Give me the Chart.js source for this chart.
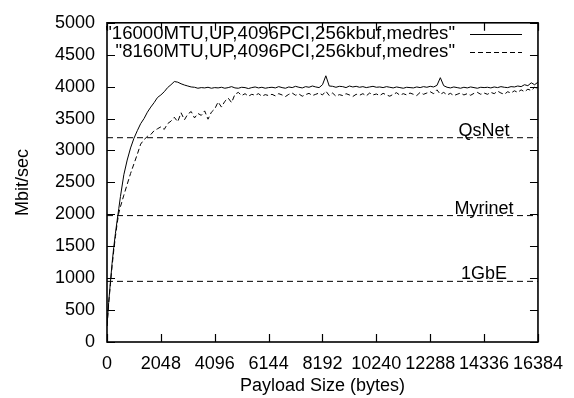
<!DOCTYPE html>
<html>
<head>
<meta charset="utf-8">
<script src="https://cdn.jsdelivr.net/npm/chart.js@4/dist/chart.umd.min.js"></script>
<style>
  body { margin: 0; background: #fff; }
  #wrap { width: 574px; height: 398px; }
</style>
</head>
<body>
<div id="wrap"><canvas id="chart1" width="574" height="398"></canvas></div>
<script>
// payload sizes in bytes
const payload = [
  0, 64, 128, 192, 256, 320, 384, 448, 512, 640, 768, 896, 1024, 1152, 1280, 1408, 1536, 1664, 1792, 1920,
  2048, 2176, 2304, 2432, 2560, 2688, 2816, 2944, 3072, 3200, 3328, 3456, 3584, 3712, 3840, 3968, 4096,
  4224, 4352, 4480, 4608, 4736, 4864, 4992, 5120, 5248, 5376, 5504, 5632, 5760, 5888, 6016, 6144,
  6272, 6400, 6528, 6656, 6784, 6912, 7040, 7168, 7296, 7424, 7552, 7680, 7808, 7936, 8064, 8192,
  8320, 8448, 8576, 8704, 8832, 8960, 9088, 9216, 9344, 9472, 9600, 9728, 9856, 9984, 10112, 10240,
  10368, 10496, 10624, 10752, 10880, 11008, 11136, 11264, 11392, 11520, 11648, 11776, 11904, 12032, 12160, 12288,
  12416, 12544, 12672, 12800, 12928, 13056, 13184, 13312, 13440, 13568, 13696, 13824, 13952, 14080, 14208, 14336,
  14464, 14592, 14720, 14848, 14976, 15104, 15232, 15360, 15488, 15616, 15744, 15872, 16000, 16128, 16256, 16384
];

// "16000MTU,UP,4096PCI,256kbuf,medres"
const mtu16000 = [
  250, 620, 930, 1230, 1480, 1700, 1900, 2090, 2280, 2620, 2850, 3040, 3190, 3310, 3420, 3500, 3600, 3680, 3750, 3830,
  3870, 3920, 3985, 4030, 4080, 4070, 4045, 4025, 4010, 3995, 3990, 3975, 3985, 3980, 3990, 3975, 3985,
  3980, 3990, 3975, 3985, 4000, 3980, 3975, 3990, 3985, 3970, 3985, 3995, 3980, 3990, 3975, 3985,
  3990, 3980, 4000, 3985, 3975, 3995, 3985, 4005, 3990, 3980, 4000, 3990, 4010, 3995, 3985, 4030,
  4170, 4010, 4005, 3990, 4005, 4000, 3985, 4010, 3995, 4005, 3990, 4000, 3985, 3995, 4005, 3990,
  3995, 3985, 4000, 3990, 3980, 3995, 3985, 3975, 3990, 3985, 3980, 3995, 3985, 4000, 3990, 4005,
  3995, 4020, 4140, 4015, 3990, 3980, 3995, 3985, 3975, 3990, 3980, 3995, 3985, 3975, 3990, 3985,
  3990, 3980, 3995, 3985, 4000, 3990, 3985, 4000, 3995, 4010, 4000, 4030, 4015, 4060, 4030, 4070
];

// "8160MTU,UP,4096PCI,256kbuf,medres"
const mtu8160 = [
  250, 600, 900, 1180, 1430, 1650, 1850, 2020, 2120, 2300, 2470, 2640, 2790, 2940, 3100, 3170, 3220, 3250, 3310, 3340,
  3370, 3330, 3420, 3460, 3520, 3450, 3590, 3480, 3570, 3610, 3510, 3580, 3550, 3620, 3490, 3600, 3650,
  3760, 3680, 3770, 3820, 3750, 3880, 3910, 3860, 3890, 3850, 3880, 3865, 3890, 3850, 3875, 3860,
  3880, 3855, 3890, 3870, 3845, 3880, 3900, 3865, 3885, 3850, 3875, 3895, 3860, 3880, 3900, 3870,
  3930, 3860, 3900, 3850, 3875, 3860, 3890, 3870, 3845, 3880, 3865, 3890, 3855, 3900, 3870, 3885,
  3860, 3895, 3870, 3850, 3880, 3905, 3865, 3890, 3870, 3900, 3880, 3860, 3910, 3880, 3900, 3920,
  3890, 3950, 3880, 3910, 3870, 3895, 3860, 3880, 3900, 3870, 3890, 3865, 3895, 3910, 3880, 3900,
  3880, 3910, 3890, 3930, 3900, 3880, 3920, 3900, 3935, 3910, 3950, 3920, 3960, 3940, 3990, 3970
];

const seriesNames = ['"16000MTU,UP,4096PCI,256kbuf,medres"', '"8160MTU,UP,4096PCI,256kbuf,medres"'];

// interconnect reference levels
const refNames = ['QsNet', 'Myrinet', '1GbE'];
const refValues = [3200, 1980, 950];
const refLabelAt = 14336;

const xTicks = [0, 2048, 4096, 6144, 8192, 10240, 12288, 14336, 16384];

const FONT = 'Liberation Sans, Arial, Helvetica, sans-serif';

document.addEventListener("DOMContentLoaded", function() {
    const toPoints = vals => payload.map((p, i) => ({x: p, y: vals[i]}));

    const datasets = [
        { label: seriesNames[0], data: toPoints(mtu16000), borderColor: '#000', borderWidth: 1, borderDash: [] },
        { label: seriesNames[1], data: toPoints(mtu8160), borderColor: '#000', borderWidth: 1, borderDash: [5, 3] }
    ];
    refValues.forEach((v, i) => {
        datasets.push({
            label: refNames[i],
            data: [{x: 0, y: v}, {x: 16384, y: v}],
            borderColor: '#000', borderWidth: 1, borderDash: [6, 4]
        });
    });

    // gnuplot style box, inward ticks, key and level labels
    const gnuplotFrame = {
        id: 'gnuplotFrame',
        afterDatasetsDraw(chart) {
            const {ctx, chartArea: a, scales: {x, y}} = chart;
            ctx.save();
            ctx.strokeStyle = '#000';
            ctx.setLineDash([]);
            ctx.lineWidth = 1.2;
            ctx.beginPath();
            x.ticks.forEach(t => {
                const px = Math.round(x.getPixelForValue(t.value)) + 0.5;
                ctx.moveTo(px, a.bottom); ctx.lineTo(px, a.bottom - 8);
                ctx.moveTo(px, a.top); ctx.lineTo(px, a.top + 8);
            });
            y.ticks.forEach(t => {
                const py = Math.round(y.getPixelForValue(t.value)) + 0.5;
                ctx.moveTo(a.left, py); ctx.lineTo(a.left + 8, py);
                ctx.moveTo(a.right, py); ctx.lineTo(a.right - 8, py);
            });
            ctx.stroke();
            ctx.lineWidth = 1.6;
            ctx.strokeRect(a.left, a.top, a.right - a.left, a.bottom - a.top);

            // level labels
            ctx.fillStyle = '#000';
            ctx.font = '18px ' + FONT;
            ctx.textAlign = 'center';
            ctx.textBaseline = 'alphabetic';
            refValues.forEach((v, i) => {
                ctx.fillText(refNames[i], x.getPixelForValue(refLabelAt), y.getPixelForValue(v) - 2);
            });

            // key
            ctx.font = '18.6px ' + FONT;
            ctx.textAlign = 'right';
            ctx.textBaseline = 'middle';
            const rows = [34, 52];
            [0, 1].forEach(i => {
                ctx.fillText(seriesNames[i], 455, rows[i]);
                ctx.setLineDash(datasets[i].borderDash);
                ctx.lineWidth = 1;
                ctx.beginPath();
                ctx.moveTo(470, rows[i] + 0.5);
                ctx.lineTo(522, rows[i] + 0.5);
                ctx.stroke();
            });
            ctx.restore();
        }
    };

    const ctx1 = document.getElementById('chart1').getContext('2d');
    const chart1 = new Chart(ctx1, {
        type: 'line',
        data: { datasets: datasets },
        options: {
            responsive: false,
            animation: false,
            layout: { padding: { top: 17, right: 29, left: 0, bottom: 0 } },
            elements: { point: { radius: 0 }, line: { tension: 0 } },
            plugins: { legend: { display: false }, tooltip: { enabled: false } },
            scales: {
                x: {
                    type: 'linear',
                    min: 0,
                    max: 16384,
                    afterBuildTicks: scale => { scale.ticks = xTicks.map(v => ({value: v})); },
                    afterFit: scale => { scale.height = 56; },
                    grid: { display: false, drawTicks: false },
                    border: { display: false },
                    ticks: {
                        padding: 11,
                        color: '#000',
                        maxRotation: 0,
                        autoSkip: false,
                        font: { family: FONT, size: 18 },
                        callback: v => String(v)
                    },
                    title: {
                        display: true,
                        text: 'Payload Size (bytes)',
                        color: '#000',
                        font: { family: FONT, size: 18 },
                        padding: { top: 1, bottom: 1 }
                    }
                },
                y: {
                    min: 0,
                    max: 5000,
                    afterFit: scale => { scale.width = 107; },
                    grid: { display: false, drawTicks: false },
                    border: { display: false },
                    ticks: {
                        stepSize: 500,
                        padding: 12,
                        color: '#000',
                        font: { family: FONT, size: 18 },
                        callback: v => String(v)
                    },
                    title: {
                        display: true,
                        text: 'Mbit/sec',
                        color: '#000',
                        font: { family: FONT, size: 18 },
                        padding: { top: 12, bottom: 0 }
                    }
                }
            }
        },
        plugins: [gnuplotFrame]
    });
});
</script>
</body>
</html>
